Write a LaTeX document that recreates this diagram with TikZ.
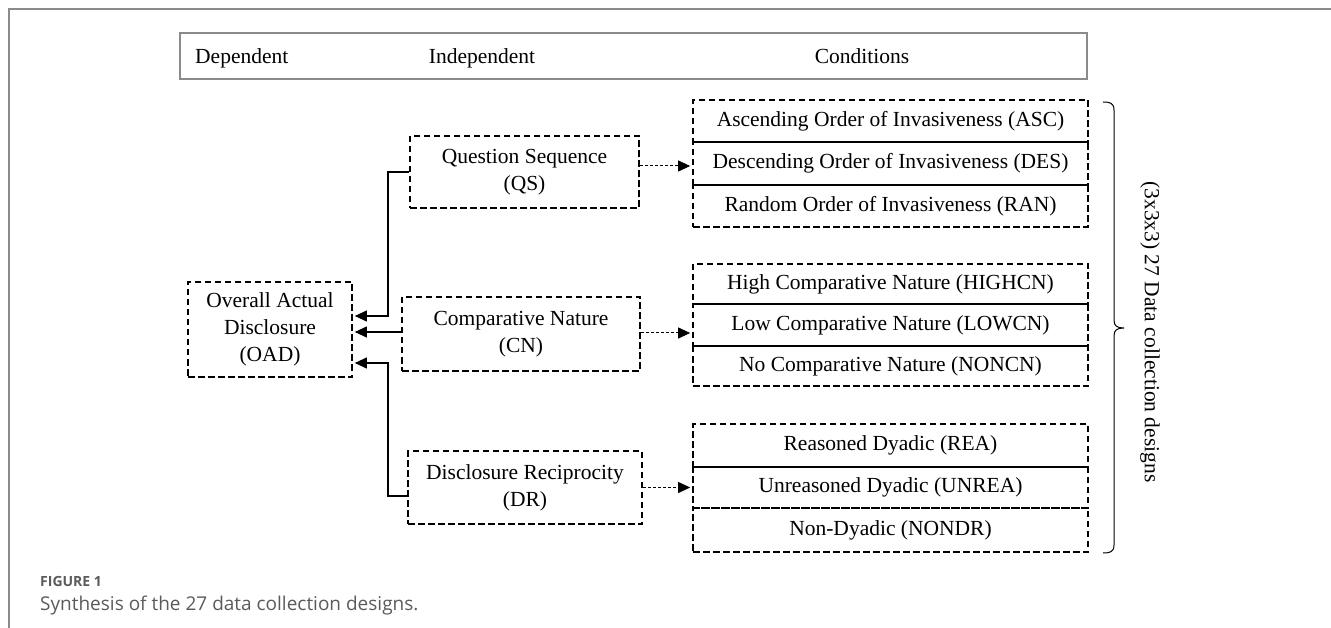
\documentclass[tikz,border=0pt]{standalone}
\usepackage{fontspec}
\setmainfont{Liberation Serif}
\newfontfamily\capfont{Open Sans}
\usetikzlibrary{arrows.meta}
\definecolor{capgray}{HTML}{5A5B5D}
\definecolor{framegray}{HTML}{8A8A8A}
\begin{document}
\begin{tikzpicture}[x=1pt,y=-1pt,
  txt/.style={font=\fontsize{21.5}{27}\selectfont},
  dbox/.style={txt, draw=black, line width=2.7pt, dash pattern=on 6.5pt off 3.5pt,
    inner sep=0pt, align=center},
  cbox/.style={dbox, minimum width=395pt},
  arr/.style={draw=black, line width=1.1pt, -{Triangle[length=12pt,width=11pt]}},
  darr/.style={draw=black, line width=1pt, dash pattern=on 3pt off 2pt,
    -{Triangle[length=12pt,width=11pt]}},
]
\useasboundingbox (0,0) rectangle (1331,628);
\fill[white] (0,0) rectangle (1331,628);
% frame
\draw[framegray, line width=1.2pt] (9,628) -- (9,9) -- (1331,9);

% header
\node[draw=framegray, line width=1.2pt, minimum width=907pt, minimum height=46pt, inner sep=0pt] (hdr) at (633.5,56) {};
\node[txt, anchor=base west, inner sep=0pt] (hdep) at (195,64) {Dependent};
\node[txt, anchor=base, inner sep=0pt] (hind) at (482,64) {Independent};
\node[txt, anchor=base, inner sep=0pt] (hcon) at (862,64) {Conditions};

% main boxes
\node[dbox, minimum width=164pt, minimum height=95pt] (oad) at (270,329.5) {Overall Actual\\Disclosure\\(OAD)};
\node[dbox, minimum width=229pt, minimum height=72pt] (qs) at (524.5,172) {Question Sequence\\(QS)};
\node[dbox, minimum width=238pt, minimum height=74pt] (cn) at (521,334) {Comparative Nature\\(CN)};
\node[dbox, minimum width=234pt, minimum height=73pt] (dr) at (525,487.5) {Disclosure Reciprocity\\(DR)};

% condition boxes
\node[cbox, minimum height=42pt] (asc) at (890.5,121) {Ascending Order of Invasiveness (ASC)};
\node[cbox, minimum height=43pt] (des) at (890.5,163.5) {Descending Order of Invasiveness (DES)};
\node[cbox, minimum height=42pt] (ran) at (890.5,206) {Random Order of Invasiveness (RAN)};

\node[cbox, minimum height=40pt] (high) at (890.5,284) {High Comparative Nature (HIGHCN)};
\node[cbox, minimum height=42pt] (low) at (890.5,325) {Low Comparative Nature (LOWCN)};
\node[cbox, minimum height=40pt] (non) at (890.5,366) {No Comparative Nature (NONCN)};

\node[cbox, minimum height=43pt] (rea) at (890.5,445.5) {Reasoned Dyadic (REA)};
\node[cbox, minimum height=41pt] (unrea) at (890.5,487.5) {Unreasoned Dyadic (UNREA)};
\node[cbox, minimum height=44pt] (nondr) at (890.5,530) {Non-Dyadic (NONDR)};

% connectors to OAD
\coordinate (j1) at (388,316);
\coordinate (j3) at (388,363);
\draw[arr, shorten >=1.5pt] (qs.west) -| (j1) -- (oad.east |- j1);
\draw[arr, shorten >=1.5pt] (cn.west |- 0,332) -- (oad.east |- 0,332);
\draw[arr, shorten >=1.5pt] (dr.west |- 0,496) -| (j3) -- (oad.east |- j3);

% dashed arrows to conditions
\draw[darr, shorten >=1.5pt] (qs.east |- 0,166) -- (des.west |- 0,166);
\draw[darr, shorten >=1.5pt] (cn.east |- 0,333) -- (low.west |- 0,333);
\draw[darr, shorten >=1.5pt] (dr.east) -- (unrea.west |- dr.east);

% brace
\draw[line width=1pt] (1103,102) .. controls (1110,102) and (1114,103) .. (1114,110)
  -- (1114,320) .. controls (1114,326) and (1117,328) .. (1124,328)
  .. controls (1117,328) and (1114,330) .. (1114,336)
  -- (1114,545) .. controls (1114,552) and (1110,553) .. (1103,553);
\node[txt, rotate=-90] (blabel) at (1150,332) {(3x3x3) 27 Data collection designs};

% caption
\node[anchor=base west, inner sep=0pt, text=capgray, font=\capfont\bfseries\fontsize{14}{16}\selectfont] (fig) at (40,586) {FIGURE 1};
\node[anchor=base west, inner sep=0pt, text=capgray, font=\capfont\fontsize{19}{22}\selectfont] (cap) at (40,610) {Synthesis of the 27 data collection designs.};
\end{tikzpicture}
\end{document}
